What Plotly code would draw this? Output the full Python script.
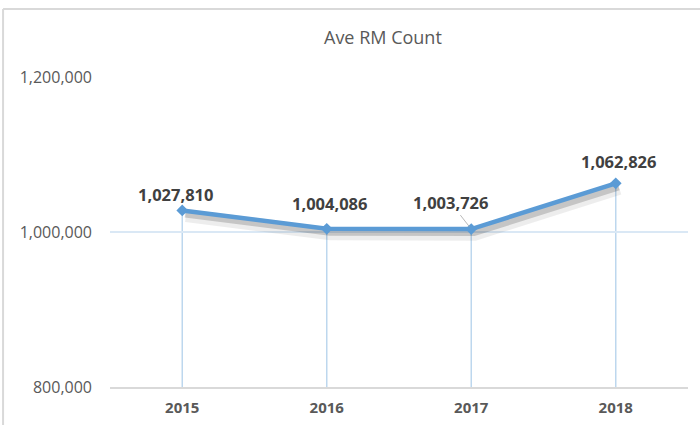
import plotly.graph_objects as go

years = ["2015", "2016", "2017", "2018"]
ave_rm = [1027810, 1004086, 1003726, 1062826]
y_ticks = [800000, 1000000, 1200000]
y_tick_labels = ["800,000", "1,000,000", "1,200,000"]
title_text = "Ave RM Count"

LINE = "#5B9BD5"
FONT = "Open Sans"
base = min(y_ticks)
xpos = list(range(len(years)))

# label placement offsets in pixels (style only)
label_dx = [-7, 3, -21, 3]
label_dy = [16, 25, 27, 22]

fig = go.Figure()

# soft shadow under the line (two layers for a blurred look)
for dyv, dxv, col, w in [(6500, 0.025, "rgba(0,0,0,0.07)", 13),
                         (4500, 0.02, "rgba(0,0,0,0.17)", 7)]:
    fig.add_trace(go.Scatter(x=[p + dxv for p in xpos], y=[v - dyv for v in ave_rm],
                             mode="lines", line=dict(color=col, width=w),
                             hoverinfo="skip", showlegend=False))

fig.add_trace(go.Scatter(x=xpos, y=ave_rm, mode="lines+markers",
                         line=dict(color=LINE, width=4.5),
                         marker=dict(symbol="diamond", size=9, color=LINE),
                         showlegend=False))

# drop lines from each point down to the axis
for p, v in zip(xpos, ave_rm):
    fig.add_shape(type="line", xref="x", yref="y", x0=p, x1=p, y0=base, y1=v,
                  line=dict(color="#BDD7EE", width=1.5), layer="below")

lab_font = dict(family=FONT, size=16.5, color="#404040", weight="bold")
for i, (p, v) in enumerate(zip(xpos, ave_rm)):
    txt = f"{v:,}"
    if i == 2:
        fig.add_annotation(x=p, y=v, text=txt, showarrow=True, arrowhead=0,
                           arrowwidth=0.8, arrowcolor="#A6A6A6",
                           ax=label_dx[i], ay=-label_dy[i], standoff=3, font=lab_font)
    else:
        fig.add_annotation(x=p, y=v, text=txt, showarrow=False,
                           xshift=label_dx[i], yshift=label_dy[i], font=lab_font)

# chart border (left and top edges visible)
fig.add_shape(type="line", xref="paper", yref="paper", x0=-0.185, x1=-0.185,
              y0=-0.2, y1=1.219, line=dict(color="#D9D9D9", width=2))
fig.add_shape(type="line", xref="paper", yref="paper", x0=-0.185, x1=1.03,
              y0=1.219, y1=1.219, line=dict(color="#D9D9D9", width=2))

fig.update_layout(
    width=700, height=425,
    margin=dict(l=110, r=12, t=77, b=38, autoexpand=False),
    paper_bgcolor="white", plot_bgcolor="white",
    title=dict(text=title_text, x=0.547, xanchor="center", y=0.912, yanchor="middle",
               font=dict(family=FONT, size=18, color="#595959")),
    xaxis=dict(range=[-0.5, len(years) - 0.5], tickvals=xpos, ticktext=years,
               automargin=False,
               showgrid=False, showline=True, zeroline=False,
               linecolor="#D9D9D9", linewidth=1.5, ticks="",
               tickfont=dict(family=FONT, size=15, color="#595959", weight="bold"),
               ticklabelstandoff=6),
    yaxis=dict(range=[800000, 1200000], tickvals=y_ticks, ticktext=y_tick_labels,
               automargin=False,
               showgrid=True, gridcolor="#DAE8F5", gridwidth=1.5,
               zeroline=False, showline=False, ticks="",
               tickfont=dict(family=FONT, size=16, color="#595959"),
               ticklabelstandoff=17),
)

fig.write_html("out.html", config={"displayModeBar": False},
               post_script="document.body.style.margin='0';")
